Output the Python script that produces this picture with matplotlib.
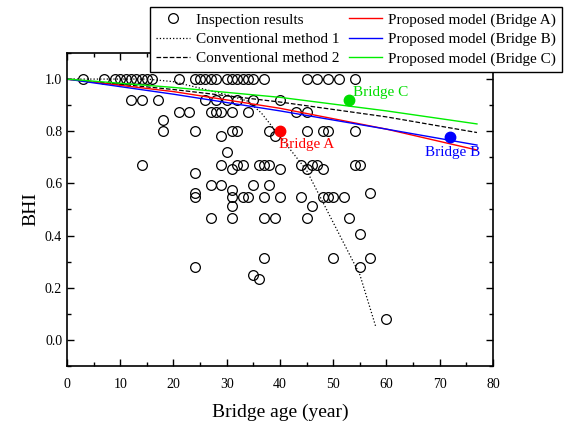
import numpy as np
from matplotlib import pyplot as plt
from matplotlib.ticker import MultipleLocator

plt.rcParams['font.family'] = ['Liberation Serif', 'DejaVu Serif']

# inspection results (bridge age, BHI)
age = [3, 7, 9, 10, 11, 12, 13, 14, 15, 16, 21, 24, 25, 26, 27, 28, 30, 31, 32,
       33, 34, 35, 37, 45, 47, 49, 51, 54,
       12, 14, 17, 26, 28, 30, 32, 35, 40,
       21, 23, 27, 28, 29, 31, 34, 43, 45,
       18,
       18, 24, 31, 32, 38, 45, 48, 49, 54,
       29, 39,
       30,
       14, 29, 32, 33, 36, 37, 38, 44, 46, 47, 54, 55,
       31, 40, 45, 48,
       24,
       27, 29, 35, 38,
       31,
       24, 57,
       24, 31, 33, 34, 37, 40, 44, 48, 49, 50, 52,
       31, 46,
       27, 31, 37, 39, 45, 53,
       55,
       37, 50, 57,
       24, 55,
       35, 36,
       60]
bhi = [1.0] * 28 + [0.92] * 9 + [0.874] * 9 + [0.843] + [0.80] * 9 + \
      [0.78] * 2 + [0.72] + [0.67] * 12 + [0.655] * 4 + [0.64] + \
      [0.594] * 4 + [0.575] + [0.563] * 2 + [0.548] * 11 + [0.513] * 2 + \
      [0.467] * 6 + [0.406] + [0.314] * 3 + [0.28] * 2 + [0.25] + [0.234] + [0.08]

# conventional methods
conv1_age = [0, 15, 20, 25, 30, 34, 36.5, 40, 45, 50, 55, 58]
conv1_bhi = [1.0, 1.0, 0.99, 0.965, 0.94, 0.915, 0.87, 0.78, 0.65, 0.45, 0.25, 0.05]
conv2_age = [0, 20, 40, 60, 77]
conv2_bhi = [1.0, 0.96, 0.912, 0.855, 0.795]

# proposed models
model_age = [0, 20, 40, 60, 77]
model_a = [1.0, 0.952, 0.888, 0.808, 0.728]
model_b = [1.0, 0.942, 0.878, 0.808, 0.747]
model_c = [1.0, 0.968, 0.93, 0.878, 0.828]

# target bridges
bridges = ['Bridge A', 'Bridge B', 'Bridge C']
bridge_age = [40, 72, 53]
bridge_bhi = [0.80, 0.778, 0.92]
bridge_col = ['red', 'blue', '#00dd00']


fig = plt.figure(figsize=(5.64, 4.24), dpi=100)
ax = fig.add_axes([0.1188, 0.137, 0.7552, 0.738])

h1, = ax.plot(age, bhi, 'o', mfc='none', mec='black', ms=7, mew=0.9,
              label='Inspection results')
h2, = ax.plot(conv1_age, conv1_bhi, ':', color='black', lw=0.9,
              label='Conventional method 1')
h3, = ax.plot(conv2_age, conv2_bhi, '--', color='black', lw=0.9,
              label='Conventional method 2')
h4, = ax.plot(model_age, model_a, '-', color='red', lw=1,
              label='Proposed model (Bridge A)')
h5, = ax.plot(model_age, model_b, '-', color='blue', lw=1,
              label='Proposed model (Bridge B)')
h6, = ax.plot(model_age, model_c, '-', color='#00ee00', lw=1,
              label='Proposed model (Bridge C)')

for name, x, y, c in zip(bridges, bridge_age, bridge_bhi, bridge_col):
    ax.plot(x, y, 'o', color=c, ms=7.5, zorder=5)

ax.text(bridge_age[0] - 0.2, bridge_bhi[0] - 0.05, bridges[0], color='red',
        fontsize=11, ha='left', va='center')
ax.text(bridge_age[1] + 0.5, bridge_bhi[1] - 0.06, bridges[1], color='blue',
        fontsize=11, ha='center', va='center')
ax.text(bridge_age[2] + 0.8, bridge_bhi[2] + 0.03, bridges[2], color='#00dd00',
        fontsize=11, ha='left', va='center')

ax.set_xlim(0, 80)
ax.set_ylim(-0.1, 1.1)
ax.xaxis.set_major_locator(MultipleLocator(10))
ax.xaxis.set_minor_locator(MultipleLocator(5))
ax.yaxis.set_major_locator(MultipleLocator(0.2))
ax.yaxis.set_minor_locator(MultipleLocator(0.1))
ax.yaxis.set_major_formatter(plt.FormatStrFormatter('%.1f'))
ax.tick_params(which='both', direction='in', top=True, right=True,
               labelsize=10, width=1)
ax.tick_params(which='major', length=5)
ax.tick_params(which='minor', length=3)
ax.tick_params(axis='x', which='major', pad=9)
for s in ax.spines.values():
    s.set_linewidth(1.2)

ax.set_xlabel('Bridge age (year)', fontsize=14, labelpad=9)
ax.set_ylabel('BHI', fontsize=14, labelpad=4)

leg = ax.legend(handles=[h1, h2, h3, h4, h5, h6], ncol=2, loc='upper left',
                bbox_to_anchor=(150 / 564, 1 - 7 / 424),
                bbox_transform=fig.transFigure, fontsize=11, frameon=True,
                fancybox=False, edgecolor='black', framealpha=1,
                borderpad=0.4, labelspacing=0.36, handlelength=2.2,
                handletextpad=0.4, columnspacing=0.6, borderaxespad=0)
leg.get_frame().set_linewidth(1)

fig.savefig('out.png', dpi=100)
